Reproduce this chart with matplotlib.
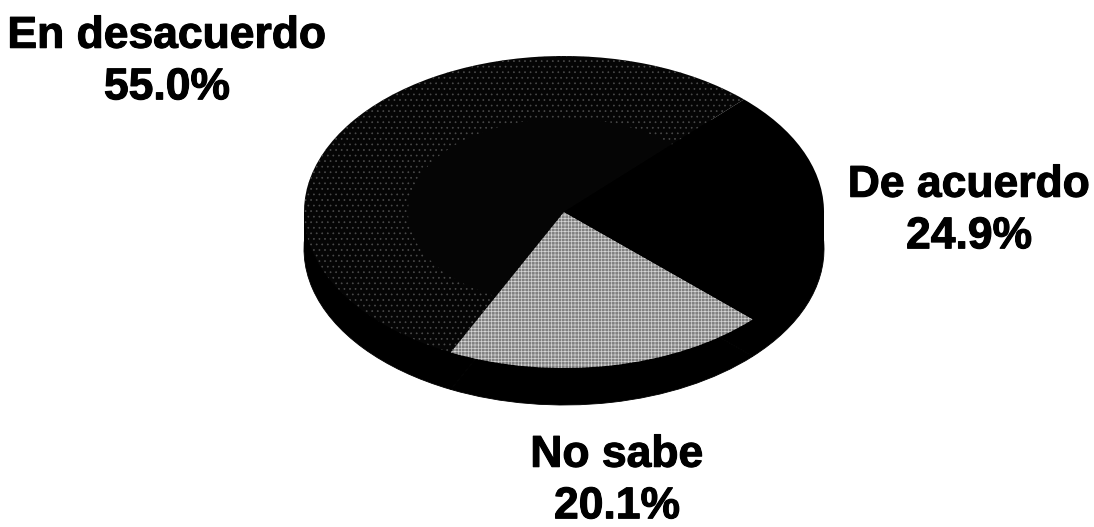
#!/usr/bin/env python3
"""Tilted pie of agreement shares, black rim and dithered top face."""

import matplotlib

matplotlib.use("Agg")
import matplotlib.patheffects as pe  # noqa: E402
import matplotlib.pyplot as plt  # noqa: E402
from matplotlib.patches import Rectangle  # noqa: E402

plt.rcParams["font.family"] = ["Liberation Sans", "DejaVu Sans"]
plt.rcParams["hatch.linewidth"] = 0.5

categories = ["En desacuerdo", "No sabe", "De acuerdo"]
shares = [55.0, 20.1, 24.9]

W, H = 1094, 527
CX, CY = 564, 212    # pie centre in pixels
RX, RY = 260, 156    # ellipse radii in pixels
DEPTH = 37 / RY      # rim height
START = 46.2

fig = plt.figure(figsize=(W / 100, H / 100), dpi=100, facecolor="white")
ax = fig.add_axes([0, 0, 1, 1])

# Rim first: same pie pushed down, plus a block to join both ellipses
ax.pie(shares, startangle=START, center=(0, -DEPTH), colors=["black"] * 3,
       wedgeprops={"linewidth": 0.6, "edgecolor": "black"})
ax.add_patch(Rectangle((-1, -DEPTH), 2, DEPTH, color="black", lw=0))

# Top face
wedges, _ = ax.pie(shares, startangle=START, colors=["#050505", "#808080", "black"],
                   wedgeprops={"linewidth": 0})
wedges[1].set(hatch="+++++", edgecolor="#d4d4d4", linewidth=0)

# Speckle only shows toward the outer part of the dark slice
ring, _ = ax.pie([shares[0], 100 - shares[0]], startangle=START, colors=["none", "none"],
                 wedgeprops={"width": 0.4, "linewidth": 0})
ring[0].set(hatch="...", edgecolor="#4a4a4a", linewidth=0)
ring[1].set_visible(False)

ax.set_aspect("auto")
ax.set_xlim(-CX / RX, (W - CX) / RX)
ax.set_ylim((CY - H) / RY, CY / RY)
ax.axis("off")

label_pos = [(167, 62), (617, 481), (969, 211)]
for name, share, (x, y) in zip(categories, shares, label_pos):
    fig.text(x / W, 1 - y / H, f"{name}\n{share:.1f}%", ha="center", va="center",
             fontsize=32, fontweight="bold", color="black", linespacing=1.33,
             path_effects=[pe.withStroke(linewidth=0.8, foreground="black")])

fig.savefig("out.png", dpi=100)
